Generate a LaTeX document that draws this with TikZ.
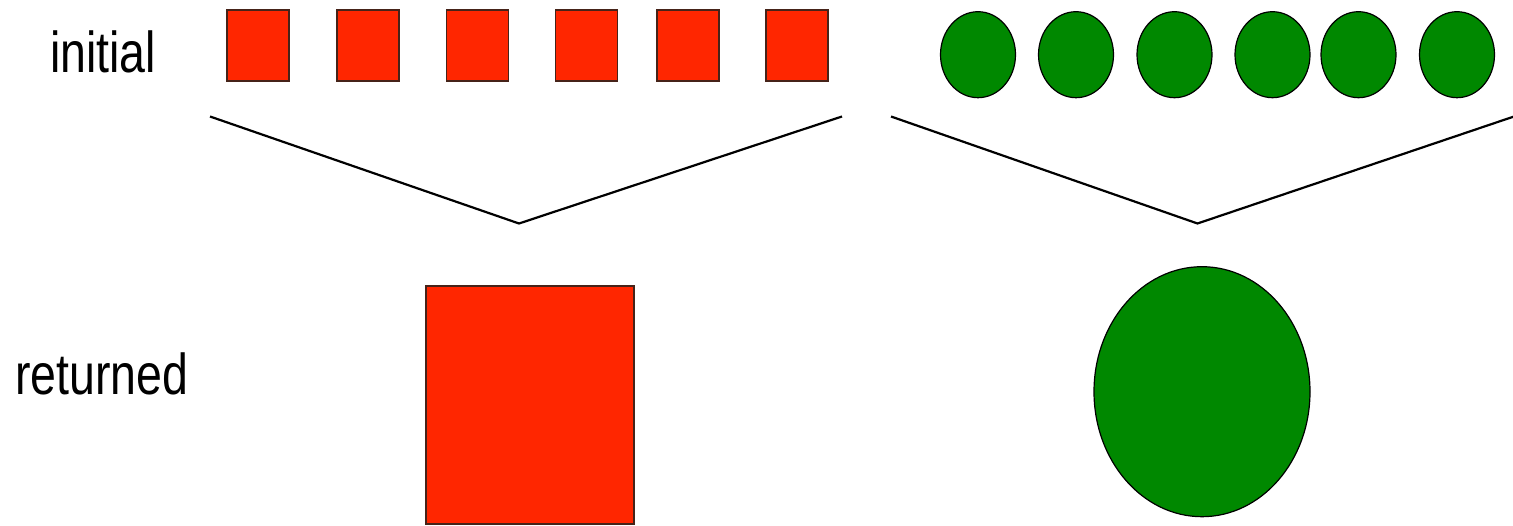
\documentclass[tikz,border=0pt]{standalone}
\usepackage{fontspec}
\setmainfont{Liberation Sans}
\usetikzlibrary{shapes.geometric}
\definecolor{boxred}{RGB}{255,38,0}
\definecolor{dotgreen}{RGB}{0,136,0}
\definecolor{edgedark}{RGB}{70,35,25}
\begin{document}
\begin{tikzpicture}[x=1pt,y=-1pt,
  redbox/.style={rectangle,draw=edgedark,fill=boxred,line width=1.5pt,inner sep=0pt,minimum width=62pt,minimum height=71pt},
  bigbox/.style={rectangle,draw=edgedark,fill=boxred,line width=1.5pt,inner sep=0pt,minimum width=208pt,minimum height=238pt},
  greendot/.style={ellipse,draw=black,fill=dotgreen,line width=1.2pt,inner sep=0pt,minimum width=75pt,minimum height=86pt},
  bigdot/.style={ellipse,draw=black,fill=dotgreen,line width=1.2pt,inner sep=0pt,minimum width=216pt,minimum height=250pt},
  lbl/.style={anchor=base west,inner sep=0pt,font=\fontsize{46.5}{50}\selectfont},
  vline/.style={draw=black,line width=2.2pt}]
\useasboundingbox (0,0) rectangle (1513,526);
\node[lbl] (tinit) at (50,73) {\scalebox{1}[1.24]{initial}};
\node[lbl] (tret) at (15,395) {\scalebox{1}[1.24]{returned}};
\node[redbox] (s1) at (258,45.5) {};
\node[redbox] (s2) at (368,45.5) {};
\node[redbox] (s3) at (477.5,45.5) {};
\node[redbox] (s4) at (586.5,45.5) {};
\node[redbox] (s5) at (688,45.5) {};
\node[redbox] (s6) at (797,45.5) {};
\node[greendot] (c1) at (978,54.7) {};
\node[greendot] (c2) at (1076,54.7) {};
\node[greendot] (c3) at (1174.5,54.7) {};
\node[greendot] (c4) at (1272.5,54.7) {};
\node[greendot] (c5) at (1358.5,54.7) {};
\node[greendot] (c6) at (1457,54.7) {};
\node[bigbox] (bs) at (530,405) {};
\node[bigdot] (bc) at (1202,391.7) {};
\coordinate (la) at (210,116.5);
\coordinate (lb) at (519,223.5);
\coordinate (lc) at (842,116.5);
\coordinate (ra) at (891,116.5);
\coordinate (rb) at (1197.5,223.5);
\coordinate (rc) at (1514,116.5);
\draw[vline] (la) -- (lb) -- (lc);
\draw[vline] (ra) -- (rb) -- (rc);
\end{tikzpicture}
\end{document}
